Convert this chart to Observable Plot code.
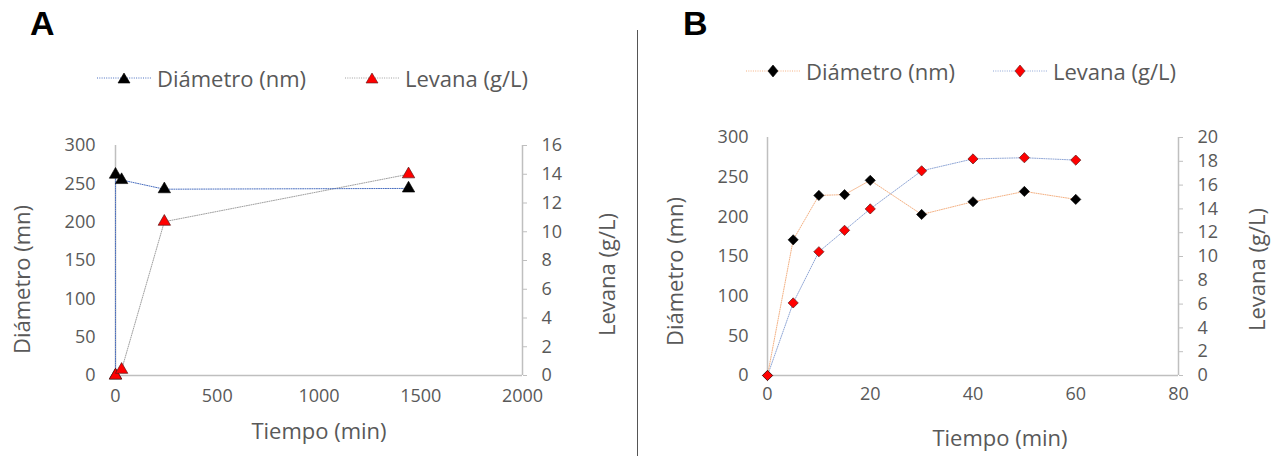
<!DOCTYPE html>
<html><head><meta charset="utf-8">
<script src="https://cdn.jsdelivr.net/npm/d3@7"></script>
<script src="https://cdn.jsdelivr.net/npm/@observablehq/plot@0.6"></script>
<style>
body{margin:0;background:#fff;}
#wrap{position:relative;width:1276px;height:456px;overflow:hidden;font-family:"Open Sans",sans-serif;color:#595959;}
.plotbox{position:absolute;}
.panel{position:absolute;font-weight:bold;font-family:"Liberation Sans",Arial,sans-serif;font-size:34px;color:#000;line-height:34px;}
.leg{position:absolute;height:30px;display:flex;align-items:center;font-size:22px;white-space:nowrap;color:#595959;}
.leg svg{margin-right:6px;}
#sep{position:absolute;left:637px;top:30px;width:1px;height:426px;background:#555;}
</style></head><body><div id="wrap"></div>
<script>
// ---- data: panel A ----
const timeA_diam = [0, 0, 30, 240, 1440];
const diamA      = [0, 262, 255, 243, 244];
const timeA_lev  = [0, 30, 240, 1440];
const levA       = [0, 0.4, 10.7, 14.0];
const xTicksA    = [0, 500, 1000, 1500, 2000];
const levTicksA  = [0, 2, 4, 6, 8, 10, 12, 14, 16];
// ---- data: panel B ----
const timeB      = [0, 5, 10, 15, 20, 30, 40, 50, 60];
const diamB      = [0, 171, 227, 228, 246, 203, 219, 232, 222];
const levB       = [0, 6.1, 10.4, 12.2, 14.0, 17.2, 18.2, 18.3, 18.1];
const xTicksB    = [0, 20, 40, 60, 80];
const levTicksB  = [0, 2, 4, 6, 8, 10, 12, 14, 16, 18, 20];
const yTicks     = [0, 50, 100, 150, 200, 250, 300];
const seriesNames = ["Diámetro (nm)", "Levana (g/L)"];
const yTitle = "Diámetro (mn)", y2Title = "Levana (g/L)", xTitle = "Tiempo (min)";

const wrap = document.getElementById("wrap");
const AX = "#bfbfbf", TXT = "#595959";
const DASH = "1,1.3";

function panel(o) {
  const k = 300 / o.levMax;
  const dData = o.tD.map((t, i) => ({t, v: o.d[i]}));
  const lData = o.tL.map((t, i) => ({t, v: o.l[i] * k}));
  const p = Plot.plot({
    width: o.width, height: o.height,
    marginLeft: o.ml, marginRight: o.mr, marginTop: o.mt, marginBottom: o.mb,
    x: {domain: [0, o.xMax]},
    y: {domain: [0, 300]},
    style: {fontFamily: "Open Sans, sans-serif", fontSize: "18px", color: TXT, background: "transparent", overflow: "visible"},
    marks: [
      Plot.ruleY([0], {stroke: AX, strokeWidth: 1.5}),
      Plot.ruleX([0], {stroke: AX, strokeWidth: 1.5}),
      Plot.ruleX([o.xMax], {stroke: AX, strokeWidth: 1.5}),
      Plot.axisX(o.xTicks, {tickSize: 0, tickPadding: o.xPad, tickFormat: d => String(d), label: null, fill: TXT}),
      Plot.axisY(yTicks, {tickSize: 0, tickPadding: o.yPad, tickFormat: d => String(d), label: null, fill: TXT}),
      Plot.axisY(o.levTicks.map(v => v * k), {anchor: "right", tickSize: 4, tickPadding: 15, stroke: AX, fill: TXT,
        tickFormat: d => String(Math.round(d / k)), label: null}),
      Plot.line(lData, {x: "t", y: "v", stroke: o.lColor, strokeWidth: 1, strokeDasharray: DASH}),
      Plot.line(dData, {x: "t", y: "v", stroke: o.dColor, strokeWidth: 1, strokeDasharray: DASH}),
      Plot.dot(dData, {x: "t", y: "v", symbol: o.symbol, r: o.r, fill: "#000", stroke: "#000", strokeWidth: 0.6}),
      Plot.dot(lData, {x: "t", y: "v", symbol: o.symbol, r: o.r, fill: "#ff0000", stroke: "#5a1a1a", strokeWidth: 0.7}),
      Plot.text([yTitle], {frameAnchor: "left", rotate: -90, dx: o.yTdx, dy: o.yTdy, textAnchor: "middle", lineAnchor: "middle", fontSize: 22, fill: TXT}),
      Plot.text([y2Title], {frameAnchor: "right", rotate: -90, dx: o.y2Tdx, dy: o.y2Tdy, textAnchor: "middle", lineAnchor: "middle", fontSize: 22, fill: TXT}),
      Plot.text([xTitle], {frameAnchor: "bottom", dx: o.xTdx, dy: o.xTdy, textAnchor: "middle", lineAnchor: "middle", fontSize: 22, fill: TXT})
    ]
  });
  const box = document.createElement("div");
  box.className = "plotbox";
  box.style.left = o.left + "px";
  box.style.top = o.top + "px";
  box.appendChild(p);
  wrap.appendChild(box);
}

panel({left: 0, top: 110, width: 638, height: 335, ml: 115, mr: 116, mt: 35, mb: 70,
  xMax: 2000, xTicks: xTicksA, levMax: 16, levTicks: levTicksA,
  tD: timeA_diam, d: diamA, tL: timeA_lev, l: levA,
  dColor: "#4a6fc0", lColor: "#a0a0a0", symbol: "triangle", r: 4.6,
  xPad: 14, yPad: 20, yTdx: -93, yTdy: 19, y2Tdx: 85, y2Tdy: 14, xTdx: 0, xTdy: 56});

panel({left: 638, top: 100, width: 638, height: 355, ml: 129, mr: 98, mt: 37, mb: 80,
  xMax: 80, xTicks: xTicksB, levMax: 20, levTicks: levTicksB,
  tD: timeB, d: diamB, tL: timeB, l: levB,
  dColor: "#f4b183", lColor: "#8fa6d6", symbol: "diamond2", r: 4.6,
  xPad: 12, yPad: 19, yTdx: -92, yTdy: 15, y2Tdx: 79, y2Tdy: 13, xTdx: 27, xTdy: 63});

// panel letters
[["A", 30, 6], ["B", 683, 6]].forEach(([t, x, y]) => {
  const d = document.createElement("div");
  d.className = "panel"; d.textContent = t; d.style.left = x + "px"; d.style.top = y + "px";
  wrap.appendChild(d);
});

// legends
function legItem(x, y, lineColor, markColor, shape, label) {
  const d = document.createElement("div");
  d.className = "leg"; d.style.left = x + "px"; d.style.top = (y - 15) + "px";
  const st = markColor === "#000" ? "#000" : "#5a1a1a";
  const mk = shape === "tri"
    ? `<path d="M27,10 L33,20 L21,20 Z" fill="${markColor}" stroke="${st}" stroke-width="0.6"/>`
    : `<path d="M27,9 L32,15 L27,21 L22,15 Z" fill="${markColor}" stroke="${st}" stroke-width="0.6"/>`;
  d.innerHTML = `<svg width="54" height="30"><line x1="0" y1="15" x2="54" y2="15" stroke="${lineColor}" stroke-width="1" stroke-dasharray="${DASH}"/>${mk}</svg><span>${label}</span>`;
  wrap.appendChild(d);
}
legItem(97, 78, "#4a6fc0", "#000", "tri", seriesNames[0]);
legItem(345, 78, "#a0a0a0", "#ff0000", "tri", seriesNames[1]);
legItem(746, 71, "#f4b183", "#000", "dia", seriesNames[0]);
legItem(993, 71, "#8fa6d6", "#ff0000", "dia", seriesNames[1]);

const sep = document.createElement("div"); sep.id = "sep"; wrap.appendChild(sep);
</script>
</body></html>
